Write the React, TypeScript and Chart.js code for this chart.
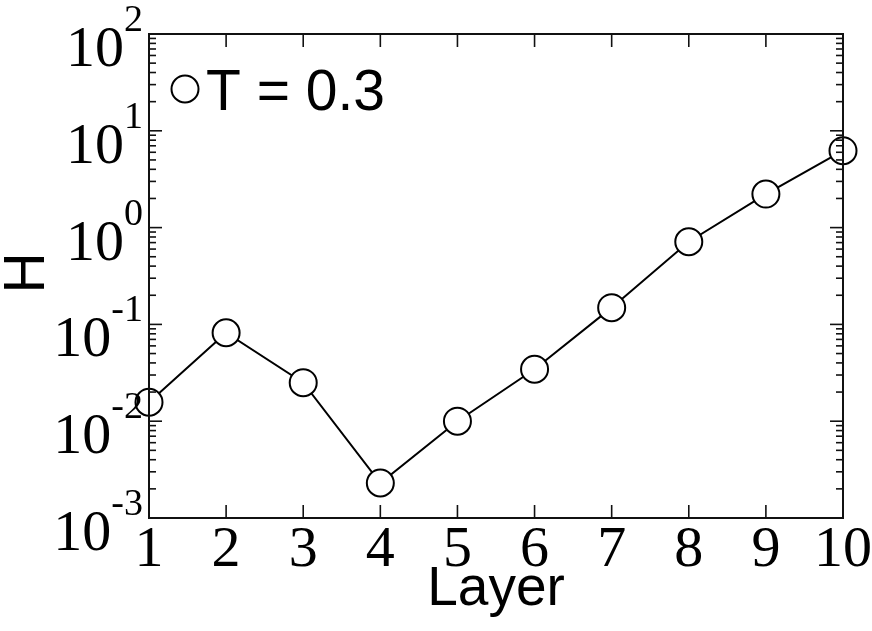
import React, { useEffect, useRef } from "react";
import { Chart, registerables } from "chart.js";

Chart.register(...registerables);

// ---- data ----
const layers = [1, 2, 3, 4, 5, 6, 7, 8, 9, 10];
const hValues = [0.0157, 0.082, 0.025, 0.0023, 0.01, 0.0344, 0.149, 0.714, 2.22, 6.23];
const xTickValues = [1, 2, 3, 4, 5, 6, 7, 8, 9, 10];
const yExponents = [-3, -2, -1, 0, 1, 2];
const seriesLabel = "T = 0.3";
const xTitle = "Layer";
const yTitle = "H";

const SERIF = '"Liberation Serif", "DejaVu Serif", serif';
const SANS = '"Liberation Sans", Arial, sans-serif';

const decorPlugin = {
  id: "decor",
  afterDatasetsDraw(chart: any) {
    const { ctx, chartArea: a, scales } = chart;
    const x = scales.x;
    const y = scales.y;
    ctx.save();
    ctx.strokeStyle = "#111";
    ctx.fillStyle = "#000";

    const seg = (x1: number, y1: number, x2: number, y2: number) => {
      ctx.beginPath();
      ctx.moveTo(x1, y1);
      ctx.lineTo(x2, y2);
      ctx.stroke();
    };

    // y ticks (major + minor), both sides, inward
    ctx.lineWidth = 1.6;
    const eMin = yExponents[0];
    const eMax = yExponents[yExponents.length - 1];
    for (let e = eMin; e <= eMax; e++) {
      for (let m = 1; m <= 9; m++) {
        if (e === eMax && m > 1) break;
        const v = m * Math.pow(10, e);
        const py = y.getPixelForValue(v);
        const len = m === 1 ? 13 : 7;
        seg(a.left, py, a.left + len, py);
        seg(a.right, py, a.right - len, py);
      }
    }
    // x ticks, top and bottom, inward
    for (const t of xTickValues) {
      const px = x.getPixelForValue(t);
      seg(px, a.bottom, px, a.bottom - 13);
      seg(px, a.top, px, a.top + 13);
    }

    // frame
    ctx.lineWidth = 2;
    ctx.strokeRect(a.left, a.top, a.right - a.left, a.bottom - a.top);

    // y tick labels 10^n
    ctx.textBaseline = "alphabetic";
    for (const e of yExponents) {
      const py = y.getPixelForValue(Math.pow(10, e));
      const rightEdge = a.left - 6;
      ctx.font = `38px ${SERIF}`;
      ctx.textAlign = "right";
      const expStr = e < 0 ? "-" + Math.abs(e) : String(e);
      const expW = ctx.measureText(expStr).width;
      ctx.fillText(expStr, rightEdge, py - 3);
      ctx.font = `58px ${SERIF}`;
      ctx.fillText("10", rightEdge - expW, py + 32);
    }

    // x tick labels
    ctx.font = `58px ${SERIF}`;
    ctx.textAlign = "center";
    for (const t of xTickValues) {
      const px = x.getPixelForValue(t);
      ctx.fillText(String(t), px, a.bottom + 48);
    }

    // axis titles
    ctx.font = `55px ${SANS}`;
    ctx.textAlign = "center";
    ctx.fillText(xTitle, (a.left + a.right) / 2, 605);
    ctx.save();
    ctx.translate(44, (a.top + a.bottom) / 2 - 3);
    ctx.rotate(-Math.PI / 2);
    ctx.font = `57px ${SANS}`;
    ctx.fillText(yTitle, 0, 0);
    ctx.restore();

    // legend
    ctx.lineWidth = 2;
    ctx.strokeStyle = "#000";
    ctx.fillStyle = "#fff";
    ctx.beginPath();
    ctx.arc(185, 89, 13.5, 0, Math.PI * 2);
    ctx.fill();
    ctx.stroke();
    ctx.fillStyle = "#000";
    ctx.font = `57px ${SANS}`;
    ctx.textAlign = "left";
    ctx.fillText(seriesLabel, 206, 110);

    ctx.restore();
  },
};

export default function App() {
  const ref = useRef<HTMLCanvasElement | null>(null);

  useEffect(() => {
    document.body.style.margin = "0";
    const canvas = ref.current;
    if (!canvas) return;
    const chart = new Chart(canvas, {
      type: "line",
      data: {
        datasets: [
          {
            label: seriesLabel,
            data: layers.map((l, i) => ({ x: l, y: hValues[i] })),
            borderColor: "#000",
            borderWidth: 2,
            pointRadius: 13.5,
            pointHoverRadius: 13.5,
            pointBackgroundColor: "#fff",
            pointBorderColor: "#000",
            pointBorderWidth: 2,
            tension: 0,
            clip: false as any,
          },
        ],
      },
      options: {
        responsive: false,
        animation: false,
        devicePixelRatio: 1,
        layout: { padding: { left: 149, top: 34, right: 29, bottom: 113 } },
        scales: {
          x: { type: "linear", min: 1, max: 10, display: false },
          y: { type: "logarithmic", min: 1e-3, max: 1e2, display: false },
        },
        plugins: {
          legend: { display: false },
          tooltip: { enabled: false },
        },
      },
      plugins: [decorPlugin],
    });
    return () => chart.destroy();
  }, []);

  return (
    <div style={{ width: 872, height: 631, background: "#fff" }}>
      <canvas ref={ref} width={872} height={631} style={{ display: "block" }} />
    </div>
  );
}
